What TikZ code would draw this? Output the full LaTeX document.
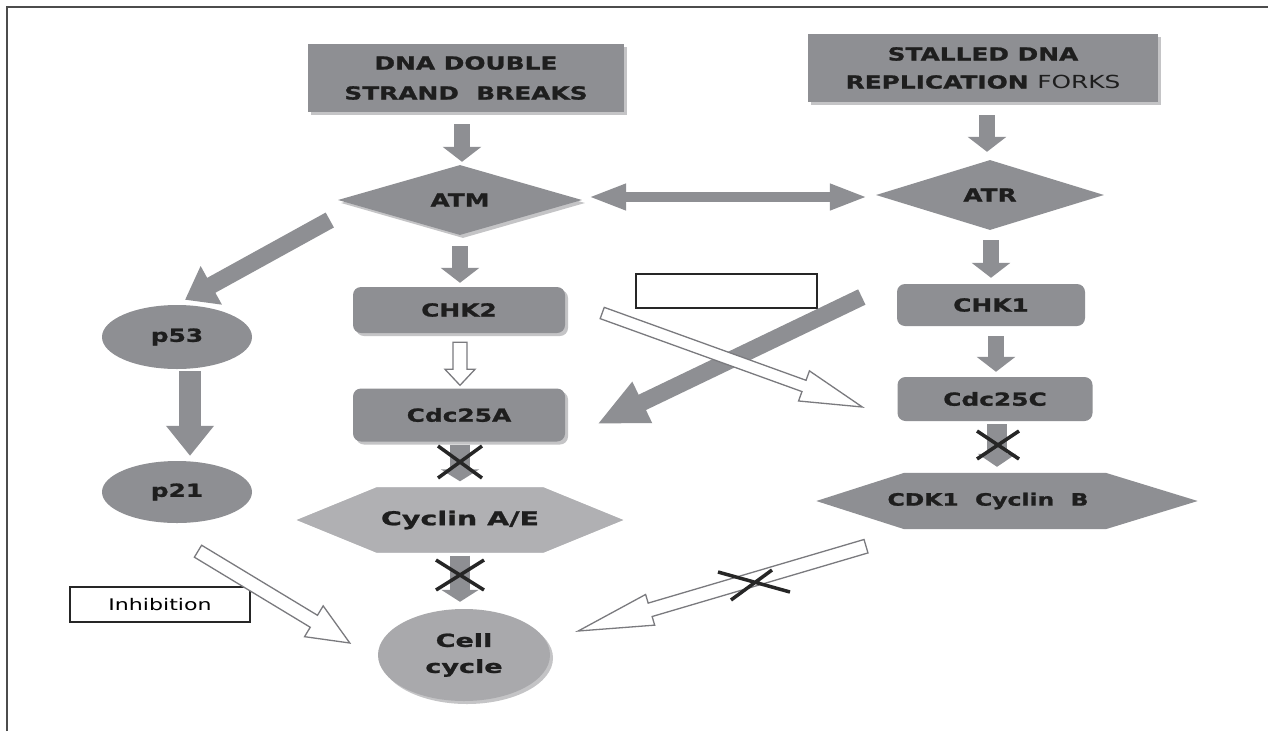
\documentclass[tikz,border=0pt]{standalone}
\usepackage{fontspec}
\setmainfont{DejaVu Sans}
\newfontfamily\wf[FakeStretch=1.38, BoldFeatures={FakeBold=1.2}]{DejaVu Sans}
\newfontfamily\wfw[FakeStretch=1.5, BoldFeatures={FakeBold=1.2}]{DejaVu Sans}
\usetikzlibrary{shapes.geometric,arrows.meta,calc,shadows,backgrounds}
\definecolor{bx}{HTML}{8E8F93}
\definecolor{ar}{HTML}{8E8F93}
\definecolor{lt}{HTML}{B0B0B3}
\definecolor{cc}{HTML}{A9A9AC}
\definecolor{tx}{HTML}{1E1E1E}
\definecolor{sh}{HTML}{C4C4C6}
\definecolor{ol}{HTML}{7A7A7E}
\newcommand\hollowarrow[5]{%
  \coordinate (ha-b) at ($(#2)!#5!(#1)$);
  \draw[hollow] ($(#1)!#3!90:(#2)$) -- ($(ha-b)!#3!90:(#2)$) -- ($(ha-b)!#4!90:(#2)$) -- (#2)
    -- ($(ha-b)!#4!-90:(#2)$) -- ($(ha-b)!#3!-90:(#2)$) -- ($(#1)!#3!-90:(#2)$) -- cycle;}
\begin{document}
\begin{tikzpicture}[x=1pt,y=-1pt,
  boxfont/.style={font=\wf\bfseries\fontsize{18}{30}\selectfont},
  shad/.style={drop shadow={shadow xshift=3pt,shadow yshift=-3pt,fill=sh,opacity=1}},
  box/.style={fill=bx, draw=none, inner sep=0pt, text=tx, align=center, boxfont},
  rbox/.style={box, rounded corners=8pt},
  diam/.style={box, diamond, aspect=3.4},
  ell/.style={box, ellipse},
  garrow/.style n args={3}{draw=ar, line width=#1, -{Triangle[width=#2,length=#3]}},
  hollow/.style={draw=ol, line width=1.3pt, fill=white, line join=miter},
  xmark/.style={draw=black!85, line width=3.5pt},
  label/.style={draw=black!85, line width=1.6pt, inner sep=0pt, fill=white}
]
\useasboundingbox (0,0) rectangle (1268,731);
% frame
\draw[line width=2pt, black!70] (7,731) -- (7,7) -- (1268,7);

% nodes
\node[box, shad, minimum width=316pt, minimum height=68pt] (dsb) at (466,78) {DNA DOUBLE\\STRAND\ \ BREAKS};
\node[box, shad, minimum width=350pt, minimum height=68pt, font=\wf\bfseries\fontsize{18}{28}\selectfont] (srf) at (983,68) {STALLED DNA\\REPLICATION {\mdseries FORKS}};
\node[diam, shad, minimum width=244pt, minimum height=70pt] (atm) at (460,200) {ATM};
\node[diam, minimum width=228pt, minimum height=70pt] (atr) at (990,195) {ATR};
\node[rbox, shad, minimum width=212pt, minimum height=46pt] (chk2) at (459,310) {CHK2};
\node[rbox, minimum width=188pt, minimum height=42pt] (chk1) at (991,305) {CHK1};
\node[rbox, shad, minimum width=212pt, minimum height=53pt] (cdc25a) at (459,415) {Cdc25A};
\node[rbox, minimum width=195pt, minimum height=44pt] (cdc25c) at (995,399) {Cdc25C};
\node[ell, minimum width=150pt, minimum height=64pt] (p53) at (177,337) {p53};
\node[ell, minimum width=150pt, minimum height=62pt] (p21) at (177,492) {p21};
\node[box, ellipse, fill=cc, shad, minimum width=172pt, minimum height=92pt, font=\wfw\bfseries\fontsize{18}{26}\selectfont] (cell) at (464,655) {Cell\\cycle};
\node[inner sep=0pt, minimum width=326pt, minimum height=65pt, text=tx, font=\wfw\bfseries\fontsize{19}{22}\selectfont] (cae) at (460,520) {Cyclin A/E};
\node[inner sep=0pt, minimum width=381pt, minimum height=56pt, text=tx, font=\wf\bfseries\fontsize{17}{20}\selectfont] (cdk) at (1007,501) {CDK1\ \ Cyclin\ \ B\hspace*{38pt}};
\node[label, minimum width=181pt, minimum height=34pt] (emp) at (726.5,291) {};
\node[label, minimum width=180pt, minimum height=35pt, font=\wf\fontsize{16}{18}\selectfont] (inh) at (160,604.5) {Inhibition};

% background and hexagon shapes
\begin{scope}[on background layer]
  \fill[white] (0,0) rectangle (1268,731);
  \fill[sh, shift={(3,3)}] (cae.west) -- ($(cae.north west)+(80,0)$) -- ($(cae.north east)+(-80,0)$) -- (cae.east)
     -- ($(cae.south east)+(-80,0)$) -- ($(cae.south west)+(80,0)$) -- cycle;
  \fill[lt] (cae.west) -- ($(cae.north west)+(80,0)$) -- ($(cae.north east)+(-80,0)$) -- (cae.east)
     -- ($(cae.south east)+(-80,0)$) -- ($(cae.south west)+(80,0)$) -- cycle;
  \fill[bx] (cdk.west) -- ($(cdk.north west)+(88,0)$) -- ($(cdk.north east)+(-92,0)$) -- (cdk.east)
     -- ($(cdk.south east)+(-92,0)$) -- ($(cdk.south west)+(88,0)$) -- cycle;
\end{scope}

% gray arrows
\draw[garrow={16pt}{38pt}{15pt}] ($(dsb.south)+(-4,12)$) -- ($(atm.north)+(2,-3)$);
\draw[garrow={16pt}{38pt}{15pt}] ($(srf.south)+(4,13)$) -- ($(atr.north)+(-3,-8)$);
\draw[garrow={16pt}{38pt}{15pt}] ($(atm.south)+(0,11)$) -- ($(chk2.north)+(1,-4)$);
\draw[garrow={16pt}{38pt}{15pt}] ($(atr.south)+(1,10)$) -- ($(chk1.north)+(0,-6)$);
\draw[garrow={16pt}{38pt}{15pt}] ($(chk1.south)+(5,10)$) -- ($(cdc25c.north)+(1,-5)$);
\draw[garrow={22pt}{46pt}{30pt}] ($(p53.south)+(13,2)$) -- ($(p21.north)+(13,-5)$);
\draw[garrow={17pt}{42pt}{30pt}] ($(atm.west)+(-8,20)$) -- ($(p53.north)+(8,-5)$);
\draw[garrow={17pt}{42pt}{50pt}] ($(chk1.west)+(-35,-8)$) -- ($(cdc25a.east)+(32,9)$);
\draw[draw=ar, line width=10pt, {Triangle[width=24pt,length=38pt]}-{Triangle[width=24pt,length=38pt]}]
  ($(atm.east)+(6,-3)$) -- ($(atr.west)+(-8,2)$);
\draw[garrow={20pt}{38pt}{12pt}] ($(cdc25a.south)+(1,3)$) -- ($(cae.north)+(0,-6)$);
\draw[garrow={20pt}{38pt}{13pt}] ($(cdc25c.south)+(2,3)$) -- ($(cdk.north)+(-10,-6)$);
\draw[garrow={20pt}{37pt}{12pt}] ($(cae.south)+(0,3)$) -- ($(cell.north)+(-4,-7)$);

% hollow arrows
\coordinate (h1s) at ($(chk2.south)+(1,9)$);
\coordinate (h1e) at ($(cdc25a.north)+(1,-3)$);
\hollowarrow{h1s}{h1e}{7pt}{15pt}{16pt}
\coordinate (h2s) at ($(chk2.east)+(37,3)$);
\coordinate (h2e) at ($(cdc25c.west)+(-35,8)$);
\hollowarrow{h2s}{h2e}{6pt}{16pt}{62pt}
\coordinate (h3s) at ($(p21.south)+(21,28)$);
\coordinate (h3e) at ($(cell.west)+(-28,-12)$);
\hollowarrow{h3s}{h3e}{7pt}{18pt}{42pt}
\coordinate (h4s) at ($(cdk.south)+(-141,17)$);
\coordinate (h4e) at ($(cell.east)+(28,-24)$);
\hollowarrow{h4s}{h4e}{7pt}{16pt}{75pt}

% crosses
\coordinate (x1) at (460,462);
\draw[xmark] ($(x1)+(-22,-16)$) -- ($(x1)+(22,16)$) ($(x1)+(22,-16)$) -- ($(x1)+(-22,16)$);
\coordinate (x2) at (998,445);
\draw[xmark] ($(x2)+(-21,-14)$) -- ($(x2)+(21,14)$) ($(x2)+(21,-14)$) -- ($(x2)+(-21,14)$);
\coordinate (x3) at (460,575);
\draw[xmark] ($(x3)+(-24,-15)$) -- ($(x3)+(24,15)$) ($(x3)+(24,-15)$) -- ($(x3)+(-24,15)$);
\coordinate (x4) at (754,584);
\draw[xmark] ($(x4)+(-36,-12)$) -- ($(x4)+(36,8)$) ($(x4)+(18,-14)$) -- ($(x4)+(-23,16)$);
\end{tikzpicture}
\end{document}
